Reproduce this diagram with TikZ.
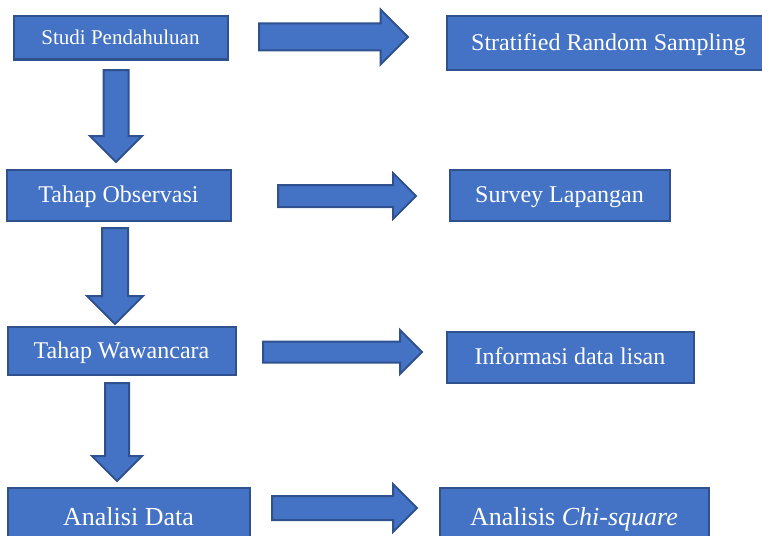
\documentclass[tikz,border=0pt]{standalone}
\usepackage{fontspec}
\setmainfont{Liberation Serif}
\usepackage{xcolor}
\usepackage{tikz}
\usetikzlibrary{shapes.arrows}
\definecolor{birumuda}{HTML}{4472C4}
\definecolor{birutua}{HTML}{2F528F}
\tikzset{
  kotak/.style={draw=birutua, fill=birumuda, line width=2pt, text=white, inner sep=0pt,
    text height=15.8pt, text depth=0pt, font=\fontsize{24}{28}\selectfont},
  kecil/.style={text height=13.9pt, font=\fontsize{21}{25}\selectfont},
  besar/.style={text height=17.2pt, font=\fontsize{26}{30}\selectfont},
  panah/.style={shape=single arrow, draw=birutua, fill=birumuda, line width=2pt,
    inner xsep=0pt, outer sep=0pt, anchor=tail}
}

\begin{document}
\begin{tikzpicture}[x=1pt,y=-1pt]
  \clip (0,0) rectangle (762,535);
  \path
    (120.5,38) node[kotak, kecil, minimum width=214pt, minimum height=43pt] (studi) {Studi Pendahuluan}
    (608.5,43) node[kotak, minimum width=324pt, minimum height=53pt] (sampling) {Stratified Random Sampling}
    (118.5,195) node[kotak, minimum width=224pt, minimum height=51pt] (observasi) {Tahap Observasi}
    (559.5,195) node[kotak, minimum width=220pt, minimum height=51pt] (survey) {Survey Lapangan}
    (121.5,350.5) node[kotak, minimum width=228pt, minimum height=48pt] (wawancara) {Tahap Wawancara}
    (570,357) node[kotak, minimum width=247pt, minimum height=51pt] (lisan) {Informasi data lisan}
    (128.5,516.5) node[kotak, besar, minimum width=242pt, minimum height=58pt] (analisi) {Analisi Data}
    (574,516.5) node[kotak, besar, minimum width=269pt, minimum height=58pt] (chi) {Analisis \textit{Chi-square}};
  \path
    (259,37) node[panah, minimum height=149pt, inner ysep=12.5pt, single arrow head extend=14pt] (ke1) {}
    (278,196) node[panah, minimum height=138pt, inner ysep=10pt, single arrow head extend=12pt] (ke2) {}
    (263,352) node[panah, minimum height=159pt, inner ysep=9.5pt, single arrow head extend=11.5pt] (ke3) {}
    (272,508) node[panah, minimum height=145pt, inner ysep=11pt, single arrow head extend=12pt] (ke4) {}
    (116,70) node[panah, rotate=-90, minimum height=92pt, inner ysep=11.5pt, single arrow head extend=13.5pt] (turun1) {}
    (115,228) node[panah, rotate=-90, minimum height=96pt, inner ysep=12pt, single arrow head extend=15pt] (turun2) {}
    (117,383) node[panah, rotate=-90, minimum height=98pt, inner ysep=11pt, single arrow head extend=13pt] (turun3) {};
\end{tikzpicture}
\end{document}
